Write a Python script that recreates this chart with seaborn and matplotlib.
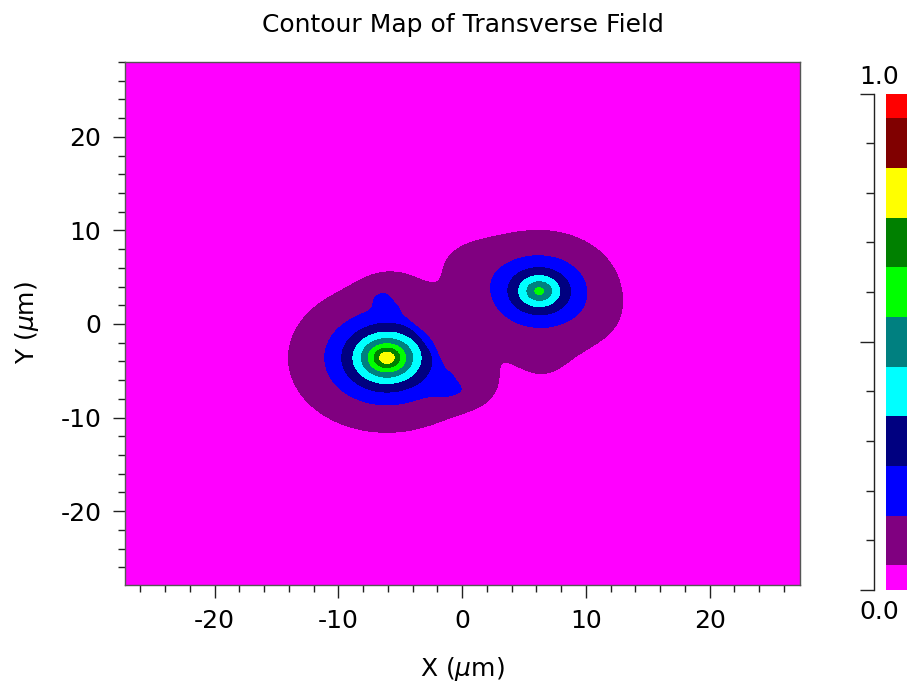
import numpy as np
import matplotlib
matplotlib.use("Agg")
import matplotlib.pyplot as plt
from matplotlib.ticker import MultipleLocator
import seaborn as sns

# ---------------- chart text / axes ----------------
title = "Contour Map of Transverse Field"
x_label = r"X ($\mu$m)"
y_label = r"Y ($\mu$m)"
x_limits = (-27.25, 27.3)
y_limits = (-27.9, 28.0)
x_ticks = [-20, -10, 0, 10, 20]
y_ticks = [-20, -10, 0, 10, 20]
cbar_range = (0.0, 1.0)
cbar_labels = ["0.0", "1.0"]

# contour levels and their fill colours (bottom -> top)
levels = [0.0, 0.05, 0.15, 0.25, 0.35, 0.45, 0.55, 0.65, 0.75, 0.85, 0.95, 1.0]
level_colors = ["#ff00ff", "#800080", "#0000ff", "#000080", "#00ffff",
                "#008080", "#00ff00", "#008000", "#ffff00", "#800000", "#ff0000"]

# ---------------- field ----------------
# two mode cores: centre, peak value, decay length
core_x = [-6.08, 6.22]
core_y = [-3.62, 3.52]
core_peak = [0.83, 0.575]
core_len = [2.66, 2.45]
core_soft = 0.5

# straight flank of the left mode between its two spike tips
edge_top = [-6.1, 3.16]
edge_bottom = [0.0, -7.0]
edge_drop = 0.35
edge_ridge = 0.09
ridge_offset = -0.4
ridge_width_in = [0.7, 1.2]   # inner-side width: top spike, lower spike
ridge_width_out = 0.5
ridge_centre = 5.0
ridge_halfwidth = 1.3

# weak halo bumps that shape the outer (purple) region
bump_x = [-5.8, 0.8, 0.3, 6.5, 11.0]
bump_y = [3.8, -6.8, 6.5, -5.0, 0.0]
bump_amp = [0.03, 0.035, 0.03, 0.03, 0.015]
bump_sig = [1.8, 1.8, 2.2, 2.5, 2.5]
bump_mode = [0, 0, 1, 1, 1]

# ---------------- build the field ----------------
xg = np.linspace(x_limits[0], x_limits[1], 600)
yg = np.linspace(y_limits[0], y_limits[1], 600)
X, Y = np.meshgrid(xg, yg)

modes = []
for i in range(len(core_x)):
    r = np.hypot(X - core_x[i], Y - core_y[i])
    modes.append(core_peak[i] * np.exp(-(np.sqrt(r ** 2 + core_soft ** 2) - core_soft) / core_len[i]))

p0 = np.array(edge_top)
p1 = np.array(edge_bottom)
u = (p1 - p0) / np.linalg.norm(p1 - p0)
n = np.array([-u[1], u[0]])
if n[0] < 0:
    n = -n
c0 = np.array([core_x[0], core_y[0]])
dist = n @ (p0 - c0)
foot = c0 + dist * n
s = (X - foot[0]) * n[0] + (Y - foot[1]) * n[1]
t = (X - foot[0]) * u[0] + (Y - foot[1]) * u[1]

ridge_win = np.exp(-((np.abs(t) - ridge_centre) / ridge_halfwidth) ** 4)
w_in = np.where(t < 0, ridge_width_in[0], ridge_width_in[1])
w_side = np.where(s < ridge_offset, w_in, ridge_width_out)
modes[0] = modes[0] + edge_ridge * np.exp(-0.5 * ((s - ridge_offset) / w_side) ** 2) * ridge_win

window = 1.0 / (1.0 + np.exp(-(6.0 - np.abs(t)) / 0.5))
band = 1.0 / (1.0 + np.exp(-s / 0.15)) / (1.0 + np.exp(-(1.8 - s) / 0.5))
modes[0] = modes[0] * (1.0 - edge_drop * band * window)

for bx, by, ba, bs, bm in zip(bump_x, bump_y, bump_amp, bump_sig, bump_mode):
    modes[bm] = modes[bm] + ba * np.exp(-0.5 * ((X - bx) ** 2 + (Y - by) ** 2) / bs ** 2)

Z = np.clip(np.sqrt(modes[0] ** 2 + modes[1] ** 2), 0, 1)

# ---------------- drawing ----------------
sns.set_theme(style="white")
plt.rcParams["font.family"] = ["DejaVu Sans"]
plt.rcParams["mathtext.fontset"] = "dejavusans"
plt.rcParams["text.color"] = "black"

W, H = 907, 683
fig = plt.figure(figsize=(W / 100, H / 100), dpi=100)
fig.patch.set_facecolor("white")


def rect(x0, y0, x1, y1):
    return [x0 / W, 1 - y1 / H, (x1 - x0) / W, (y1 - y0) / H]


ax = fig.add_axes(rect(125, 62, 800, 585))
cs = ax.contourf(X, Y, Z, levels=levels, colors=level_colors)
ax.set_xlim(*x_limits)
ax.set_ylim(*y_limits)
ax.set_xticks(x_ticks)
ax.set_yticks(y_ticks)
ax.set_xticklabels([str(v) for v in x_ticks])
ax.set_yticklabels([str(v) for v in y_ticks])
ax.xaxis.set_minor_locator(MultipleLocator(2))
ax.yaxis.set_minor_locator(MultipleLocator(2))
for sp in ax.spines.values():
    sp.set_visible(True)
    sp.set_color("#555555")
    sp.set_linewidth(1.0)
ax.tick_params(axis="both", which="major", direction="out", length=9, width=1,
               color="#222222", labelsize=18, labelcolor="black",
               bottom=True, left=True, top=False, right=False)
ax.tick_params(axis="x", which="major", pad=8)
ax.tick_params(axis="y", which="major", pad=8)
ax.tick_params(axis="both", which="minor", direction="out", length=5, width=1,
               color="#222222", bottom=True, left=True, top=False, right=False)

fig.text(463 / W, 1 - 32 / H, title, ha="center", va="baseline", fontsize=18, color="black")
fig.text(462 / W, 1 - 676 / H, x_label, ha="center", va="baseline", fontsize=18, color="black")
fig.text(27 / W, 1 - 323 / H, y_label, ha="center", va="center", rotation=90, fontsize=18, color="black")

# colour bar (cut by the right edge of the figure, as in the original)
cax = fig.add_axes(rect(885.7, 93.5, 935, 590))
cb = fig.colorbar(cs, cax=cax, spacing="proportional", ticks=[])
cb.outline.set_visible(False)

tax = fig.add_axes(rect(874, 93.5, 874.6, 590))
tax.set_ylim(*cbar_range)
tax.set_xticks([])
tax.patch.set_alpha(0)
for sp in ["top", "right", "bottom"]:
    tax.spines[sp].set_visible(False)
tax.spines["left"].set_color("#222222")
tax.spines["left"].set_linewidth(1.0)
tax.yaxis.set_major_locator(MultipleLocator(0.5))
tax.yaxis.set_minor_locator(MultipleLocator(0.1))
tax.tick_params(axis="y", which="major", length=10, width=1, color="#222222", labelleft=False, left=True)
tax.tick_params(axis="y", which="minor", length=6, width=1, color="#222222", left=True)
fig.text(879 / W, 1 - 77 / H, cbar_labels[1], ha="center", va="center", fontsize=18, color="black")
fig.text(879 / W, 1 - 612 / H, cbar_labels[0], ha="center", va="center", fontsize=18, color="black")

fig.savefig("out.png", dpi=100)
